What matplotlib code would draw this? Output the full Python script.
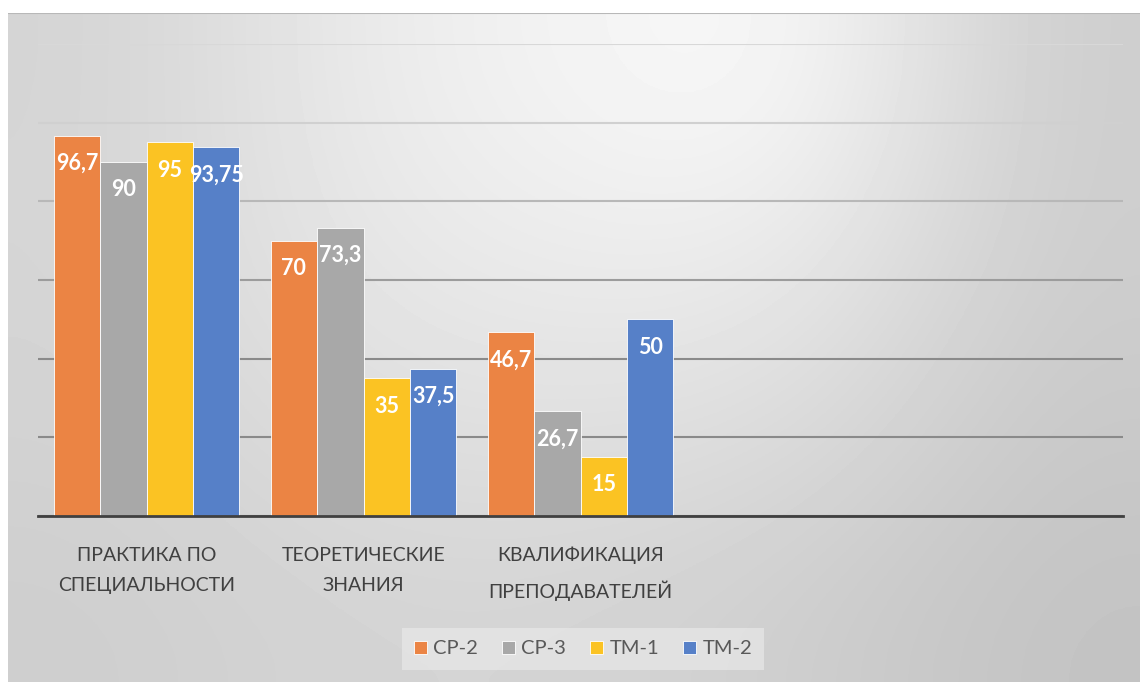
import matplotlib
matplotlib.use('Agg')
import matplotlib.pyplot as plt
import numpy as np

# данные диаграммы
categories = ['ПРАКТИКА ПО\nСПЕЦИАЛЬНОСТИ', 'ТЕОРЕТИЧЕСКИЕ\nЗНАНИЯ', 'КВАЛИФИКАЦИЯ\nПРЕПОДАВАТЕЛЕЙ']
n_slots = 5
series_names = ['СР-2', 'СР-3', 'ТМ-1', 'ТМ-2']
cp2 = [96.7, 70, 46.7]
cp3 = [90, 73.3, 26.7]
tm1 = [95, 35, 15]
tm2 = [93.75, 37.5, 50]
colors = ['#eb8444', '#a8a8a8', '#fbc323', '#5680c8']

W, H = 1140, 682
fig = plt.figure(figsize=(W / 100, H / 100), dpi=100)
fig.patch.set_facecolor('white')

# фон с градиентом
bg = fig.add_axes([8 / W, 0, 1 - 8 / W, (H - 13) / H])
grad = np.array([
    [212, 234, 244, 250, 205],
    [213, 230, 236, 234, 205],
    [210, 222, 224, 220, 200],
    [206, 212, 212, 206, 195],
]) / 255.0
bg.imshow(grad, cmap='gray', vmin=0, vmax=1, aspect='auto',
          interpolation='bicubic', extent=[0, 1, 0, 1])
bg.axhline(1, color='#b8b8b8', lw=1.5)
bg.set_xlim(0, 1)
bg.set_ylim(0, 1)
bg.axis('off')

ax = fig.add_axes([38 / W, (H - 516) / H, (1123 - 38) / W, (516 - 44) / H])
ax.patch.set_alpha(0)

x = np.arange(len(categories))
width = 0.214
offsets = [-1.5 * width, -0.5 * width, 0.5 * width, 1.5 * width]
fam = ['Lato', 'Open Sans', 'DejaVu Sans']

for vals, name, col, off in zip([cp2, cp3, tm1, tm2], series_names, colors, offsets):
    bars = ax.bar(x + off, vals, width=width, color=col, edgecolor='white',
                  linewidth=0.6, label=name, zorder=3)
    for b, v in zip(bars, vals):
        ax.annotate(f'{v:g}'.replace('.', ','), (b.get_x() + b.get_width() / 2, v),
                    xytext=(0, -20), textcoords='offset points', ha='center',
                    va='center', color='white', fontsize=15.5, fontweight='bold',
                    family=fam, zorder=4)

ax.set_xlim(-0.5, n_slots - 0.5)
ax.set_ylim(0, 120)
ax.set_yticks(range(0, 121, 20))
ax.tick_params(left=False, labelleft=False, bottom=False)
ax.yaxis.grid(True, linewidth=1.5)
grid_cols = ['#8a8a8a', '#8a8a8a', '#8a8a8a', '#9c9c9c', '#b8b8b8', '#d0d0d0', '#d8d8d8']
for gl, c in zip(ax.get_ygridlines(), grid_cols):
    gl.set_color(c)
ax.set_axisbelow(True)

ax.set_xticks(x)
ax.set_xticklabels(categories, fontsize=14, color='#404040', family=fam, linespacing=1.95)
ax.tick_params(axis='x', pad=18.5)

for s in ['left', 'right', 'top']:
    ax.spines[s].set_visible(False)
ax.spines['bottom'].set_color('#404040')
ax.spines['bottom'].set_linewidth(2)
ax.spines['bottom'].set_zorder(5)

leg = fig.legend(loc='center', bbox_to_anchor=(583 / W, (H - 649) / H), ncol=4,
                 frameon=True, fancybox=False, handlelength=0.65, handleheight=0.65,
                 handletextpad=0.3, columnspacing=1.2, borderpad=0.6,
                 prop={'family': fam, 'size': 14.5})
leg.get_frame().set_facecolor('#e8e8e8')
leg.get_frame().set_edgecolor('none')
leg.get_frame().set_alpha(0.7)
for t in leg.get_texts():
    t.set_color('#595959')

fig.savefig('out.png', dpi=100)
